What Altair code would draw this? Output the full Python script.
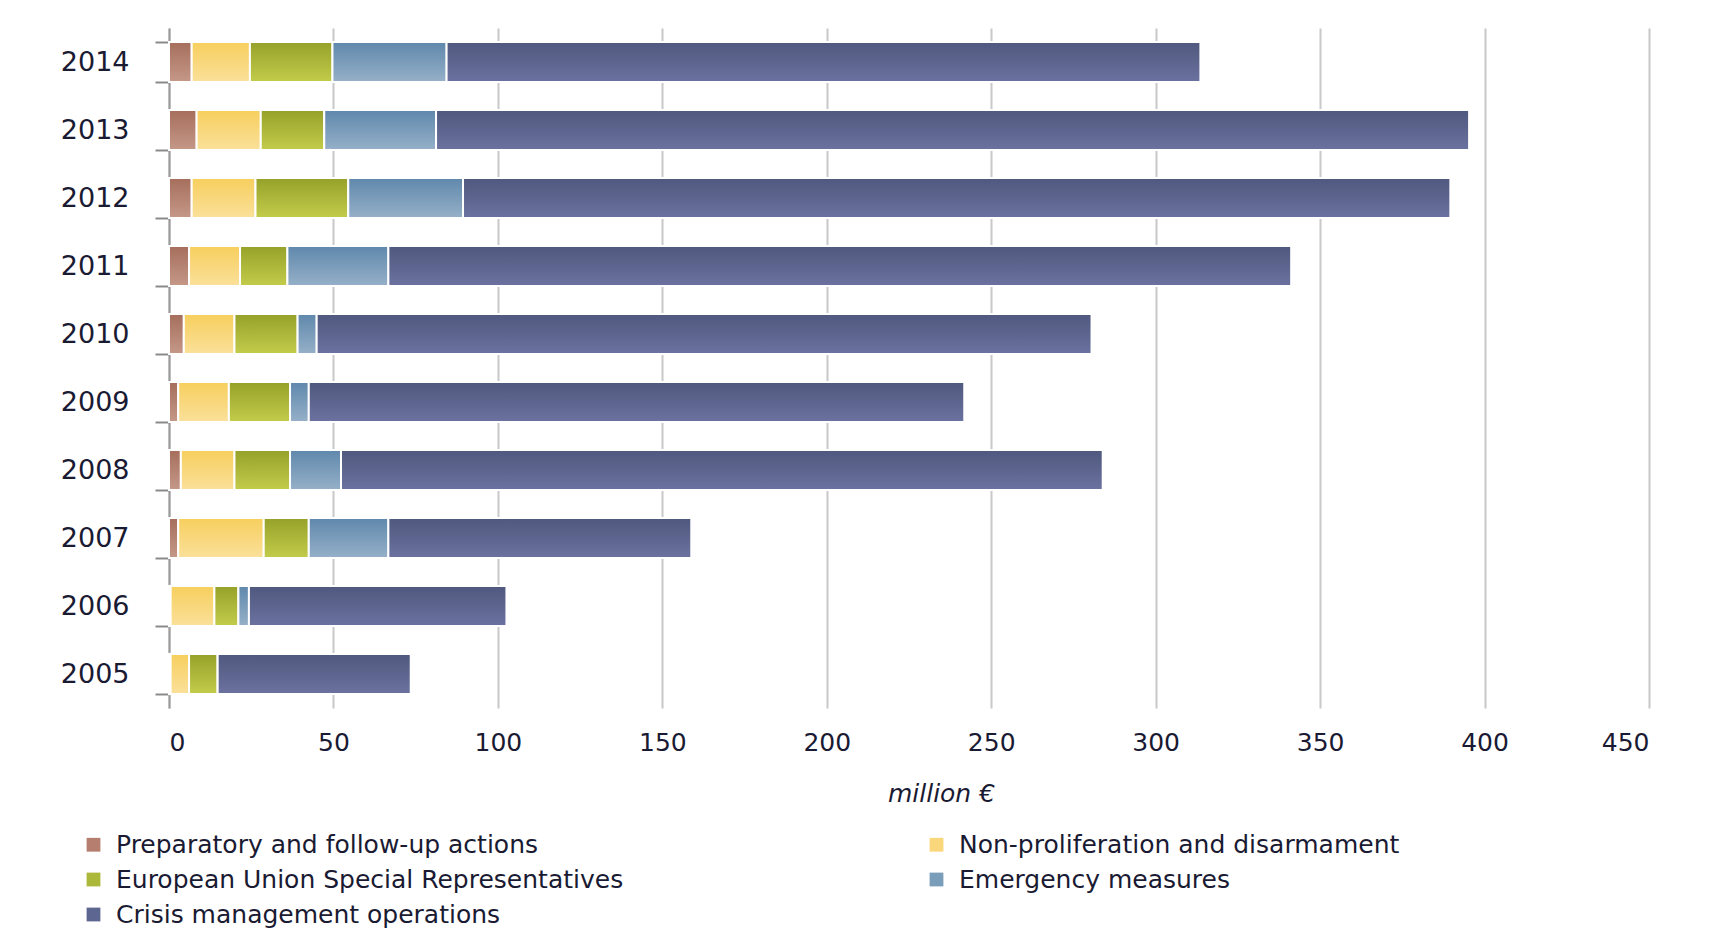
import altair as alt
import pandas as pd

years = ["2014", "2013", "2012", "2011", "2010", "2009", "2008", "2007", "2006", "2005"]
series = [
    "Preparatory and follow-up actions",
    "Non-proliferation and disarmament",
    "European Union Special Representatives",
    "Emergency measures",
    "Crisis management operations",
]
prep = [6.9, 8.4, 6.9, 6.1, 4.5, 2.8, 3.6, 2.8, 0.5, 0.5]
nonprolif = [17.7, 19.5, 19.4, 15.5, 15.4, 15.4, 16.3, 26.0, 13.3, 5.6]
eusr = [25.1, 19.3, 28.2, 14.4, 19.2, 18.6, 16.9, 13.7, 7.3, 8.7]
emerg = [34.7, 34.0, 34.9, 30.7, 5.8, 5.7, 15.5, 24.2, 3.2, 0.0]
crisis = [229.2, 314.1, 300.2, 274.5, 235.6, 199.3, 231.6, 92.1, 78.3, 58.7]

flat_colors = ["#B57E6E", "#F9D77A", "#ACB83A", "#7A9DBA", "#5D6690"]
grad_top = ["#A66E5C", "#F7CF5E", "#96A12A", "#5F88AC", "#4F587D"]
grad_bot = ["#C59888", "#FAE09A", "#C3CC4A", "#96B0C8", "#6B72A0"]

rows = []
for vals, s, k in zip([prep, nonprolif, eusr, emerg, crisis], series, range(5)):
    for y, v in zip(years, vals):
        rows.append({"year": y, "series": s, "order": k, "value": v})
df = pd.DataFrame(rows)

font = "DejaVu Sans"
ysc = alt.Scale(domain=years, paddingInner=0.41, paddingOuter=0.205)
xsc = alt.Scale(domain=[0, 450], nice=False)

base = alt.Chart(df).transform_stack(
    stack="value", groupby=["year"], as_=["x0", "x1"],
    sort=[alt.SortField("order", order="ascending")]
)

xenc = alt.X(
    "x0:Q", scale=xsc,
    axis=alt.Axis(
        values=list(range(0, 451, 50)), grid=True, gridColor="#C8C8C8", gridWidth=2,
        domain=False, ticks=False, labelFontSize=25, labelFont=font, labelColor="#1a1a33",
        labelPadding=22, title="million €", titleFont=font, titleFontSize=25,
        titleFontStyle="italic", titleFontWeight="normal", titleColor="#1a1a33",
        titlePadding=26, titleX=772,
    ),
)
yenc = alt.Y(
    "year:N", scale=ysc, sort=years,
    axis=alt.Axis(
        title=None, domain=True, domainColor="#9A9A9A", domainWidth=2,
        ticks=True, tickBand="extent", tickSize=14, tickColor="#8A8A8A", tickWidth=2,
        labelFontSize=27, labelFont=font, labelColor="#1a1a33", labelPadding=26, grid=False,
    ),
)

legend_layer = base.mark_bar(stroke="white", strokeWidth=2).encode(
    x=xenc, x2="x1:Q", y=yenc,
    color=alt.Color(
        "series:N", scale=alt.Scale(domain=series, range=flat_colors),
        legend=alt.Legend(
            title=None, orient="none", legendX=-88, legendY=804, columns=2,
            direction="horizontal",
            columnPadding=300, rowPadding=9, labelFontSize=25, labelFont=font,
            labelColor="#1a1a33", labelLimit=1000, symbolType="square", symbolSize=190,
            symbolStrokeWidth=0, symbolOffset=0, labelOffset=10,
        ),
    ),
    order=alt.Order("order:Q"),
)

layers = [legend_layer]
for k, s in enumerate(series):
    grad = alt.Gradient(
        gradient="linear",
        stops=[alt.GradientStop(color=grad_top[k], offset=0), alt.GradientStop(color=grad_bot[k], offset=1)],
        x1=0, x2=0, y1=0, y2=1,
    )
    layers.append(
        base.transform_filter(alt.datum.series == s)
        .mark_bar(color=grad, stroke="white", strokeWidth=2)
        .encode(x=alt.X("x0:Q", scale=xsc), x2="x1:Q", y=alt.Y("year:N", scale=ysc, sort=years))
    )

chart = alt.layer(*layers).properties(
    width=1480, height=680,
    autosize=alt.AutoSizeParams(type="none"),
    padding={"left": 161, "top": 20, "right": 60, "bottom": 225},
).configure_view(strokeWidth=0)

chart.save("out.html", embed_options={"renderer": "svg", "actions": False})
